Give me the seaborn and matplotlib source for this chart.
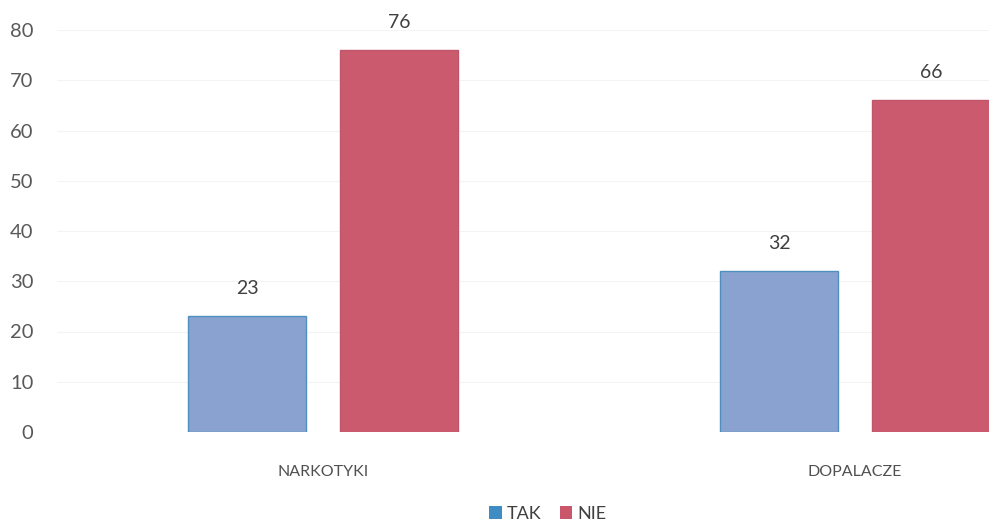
import pandas as pd
import seaborn as sns
import matplotlib.pyplot as plt

# dane z wykresu
kategorie = ["NARKOTYKI", "DOPALACZE"]
tak = [23, 32]
nie = [76, 66]
serie = ["TAK", "NIE"]
y_ticks = [0, 10, 20, 30, 40, 50, 60, 70, 80]

df = pd.DataFrame({
    "kategoria": kategorie * 2,
    "odpowiedz": [serie[0]] * len(kategorie) + [serie[1]] * len(kategorie),
    "liczba": tak + nie,
})

sns.set_style("white")
plt.rcParams["font.family"] = ["Lato", "DejaVu Sans"]

kolory = {"TAK": "#8aa2d0", "NIE": "#cc5a6e"}
krawedzie = {"TAK": "#4f8fc0", "NIE": "#c0566a"}

fig = plt.figure(figsize=(9.89, 5.25), dpi=100)
# obszar wykresu ucięty z prawej strony (jak na skanie)
ax = fig.add_axes([57 / 989, 93 / 525, 932 / 989, 402 / 525])

sns.barplot(data=df, x="kategoria", y="liczba", hue="odpowiedz",
            order=kategorie, hue_order=serie, palette=kolory, saturation=1,
            width=0.571, gap=0.22, ax=ax, legend=False)

for cont, s in zip(ax.containers, serie):
    for bar in cont:
        bar.set_edgecolor(krawedzie[s])
        bar.set_linewidth(1.0)
    ax.bar_label(cont, padding=14, fontsize=14, color="#404040")

ax.set_ylim(0, 80)
ax.set_xlim(-0.5, 1.252)
ax.set_yticks(y_ticks)
ax.yaxis.grid(True, color="#f4f4f4", linewidth=0.8)
ax.set_axisbelow(True)
sns.despine(ax=ax, left=True, bottom=True, right=True, top=True)
ax.tick_params(axis="y", length=0, pad=17, labelsize=14.5, labelcolor="#595959")
ax.tick_params(axis="x", length=0, pad=24, labelsize=11.5, labelcolor="#505050")
ax.set_xlabel("")
ax.set_ylabel("")

uchwyty = [plt.Rectangle((0, 0), 1, 1, facecolor="#3f8cc4", edgecolor="none"),
           plt.Rectangle((0, 0), 1, 1, facecolor="#c9566b", edgecolor="none")]
fig.legend(uchwyty, serie, loc="center", bbox_to_anchor=(548 / 989, 11 / 525),
           ncol=2, frameon=False, fontsize=13, handlelength=0.7, handleheight=0.7,
           handletextpad=0.3, columnspacing=1.0, labelcolor="#404040",
           borderpad=0)

fig.savefig("out.png", dpi=100)
